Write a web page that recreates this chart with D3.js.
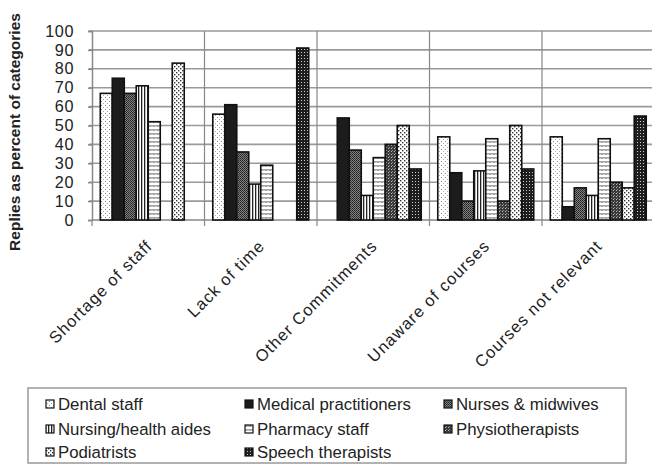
<!DOCTYPE html>
<html><head><meta charset="utf-8">
<script src="https://cdn.jsdelivr.net/npm/d3@7/dist/d3.min.js"></script>
<style>body{margin:0;background:#fff}svg{display:block}</style>
</head><body>
<svg id="c" width="652" height="464"></svg>
<script>
const categories = ["Shortage of staff","Lack of time","Other Commitments","Unaware of courses","Courses not relevant"];
const series = ["Dental staff","Medical practitioners","Nurses & midwives","Nursing/health aides","Pharmacy staff","Physiotherapists","Podiatrists","Speech therapists"];
const dental = [67,56,null,44,44];
const medical = [75,61,54,25,7];
const nurses = [67,36,37,10,17];
const aides = [71,19,13,26,13];
const pharmacy = [52,29,33,43,43];
const physio = [null,null,40,10,20];
const podiatrists = [83,null,50,50,17];
const speech = [null,91,27,27,55];
const yTicks = [0,10,20,30,40,50,60,70,80,90,100];
const values = [dental,medical,nurses,aides,pharmacy,physio,podiatrists,speech];

(function(){
const FONT = "Liberation Sans, Arial, sans-serif";
const svg = d3.select("#c");
const defs = svg.append("defs");
function pat(id,w,h,bg,draw){
  const p = defs.append("pattern").attr("id",id).attr("patternUnits","userSpaceOnUse").attr("width",w).attr("height",h);
  p.append("rect").attr("width",w).attr("height",h).attr("fill",bg);
  draw(p);
}
function px(p,x,y,w,h,c){p.append("rect").attr("x",x).attr("y",y).attr("width",w).attr("height",h).attr("fill",c);}
pat("p0",4,4,"#fff",p=>{px(p,1,1,1,1,"#888");px(p,3,3,1,1,"#aaa");});
pat("p1",4,4,"#1c1c1c",p=>{});
pat("p2",2,2,"#808080",p=>{px(p,0,0,1,1,"#222");px(p,1,1,1,1,"#333");});
pat("p3",3,3,"#fff",p=>{px(p,0,0,1.3,3,"#222");});
pat("p4",4,4,"#fff",p=>{p.append("path").attr("d","M0,2.5 L1,1.5 L2,2.5 L3,1.5 L4,2.5").attr("stroke","#333").attr("stroke-width",1).attr("fill","none");});
pat("p5",3,3,"#3a3a3a",p=>{px(p,1,1,1,1,"#bbb");px(p,2,0,1,1,"#888");});
pat("p6",4,4,"#fff",p=>{px(p,0,0,1.4,1.4,"#333");px(p,2,2,1.4,1.4,"#333");});
pat("p7",3,3,"#1e1e1e",p=>{px(p,1,1,1,1,"#ccc");});

const L = 92, R = 654.5, T = 31, B = 220;
const y = d3.scaleLinear().domain([0,100]).range([B, T]);
const x0 = d3.scaleBand().domain(categories).range([L, R]).padding(0);
const x1 = d3.scaleBand().domain(series).range([0, x0.bandwidth()]).paddingInner(0).paddingOuter(0.69);

const grid = svg.append("g");
grid.selectAll("line.h").data(yTicks.slice(1)).join("line")
  .attr("x1",L-3).attr("x2",R).attr("y1",d=>y(d)).attr("y2",d=>y(d))
  .attr("stroke","#9a9a9a").attr("stroke-width",1.6);
const divs = categories.map(c=>x0(c)).concat([R]);
grid.selectAll("line.v").data(divs.slice(1)).join("line")
  .attr("x1",d=>d).attr("x2",d=>d).attr("y1",T).attr("y2",B+6)
  .attr("stroke","#888").attr("stroke-width",1.2);

const yAxis = d3.axisLeft(y).tickValues(yTicks).tickSize(4).tickPadding(14);
const ya = svg.append("g").attr("transform",`translate(${L},0)`).call(yAxis);
ya.select(".domain").attr("stroke","#888").attr("stroke-width",1.5);
ya.selectAll(".tick line").attr("stroke","#888").attr("stroke-width",1.5);
ya.selectAll(".tick text").attr("font-family",FONT).attr("font-size",16.2).attr("letter-spacing",0.6).attr("fill","#222");

const xa = svg.append("g").attr("transform",`translate(0,${B})`);
xa.append("line").attr("x1",L).attr("x2",R).attr("stroke","#888").attr("stroke-width",1.5);
xa.append("line").attr("x1",L).attr("x2",L).attr("y1",0).attr("y2",6).attr("stroke","#888").attr("stroke-width",1.2);
xa.selectAll("text").data(categories).join("text")
  .attr("transform",c=>`translate(${x0(c)+x0.bandwidth()/2+5},${27}) rotate(-45)`)
  .attr("text-anchor","end").attr("letter-spacing",1.0)
  .attr("font-family",FONT).attr("font-size",16.5).attr("fill","#222")
  .text(d=>d);

series.forEach((s,si)=>{
  svg.append("g").selectAll("rect").data(categories.map((c,ci)=>({c,v:values[si][ci]})).filter(d=>d.v!=null)).join("rect")
    .attr("x",d=>x0(d.c)+x1(s)).attr("width",x1.bandwidth())
    .attr("y",d=>y(d.v)).attr("height",d=>y(0)-y(d.v))
    .attr("fill",`url(#p${si})`).attr("stroke","#111").attr("stroke-width",1.6);
});

svg.append("text").attr("transform","translate(20,132) rotate(-90)").attr("text-anchor","middle")
  .attr("font-family",FONT).attr("font-weight","bold").attr("font-size",15.5).attr("fill","#222")
  .text("Replies as percent of categories");

const lg = svg.append("g");
lg.append("rect").attr("x",28).attr("y",388).attr("width",598).attr("height",75).attr("fill","#fff").attr("stroke","#999").attr("stroke-width",1.5);
const colX = [46,245,444], rowY = [410,435,458];
series.forEach((s,i)=>{
  const cx = colX[i%3], cy = rowY[Math.floor(i/3)];
  lg.append("rect").attr("x",cx).attr("y",cy-10).attr("width",8).attr("height",8).attr("fill",`url(#p${i})`).attr("stroke","#111").attr("stroke-width",1.2);
  lg.append("text").attr("x",cx+12).attr("y",cy).attr("font-family",FONT).attr("font-size",16.8).attr("fill","#222").text(s);
});
})();
</script>
</body></html>
